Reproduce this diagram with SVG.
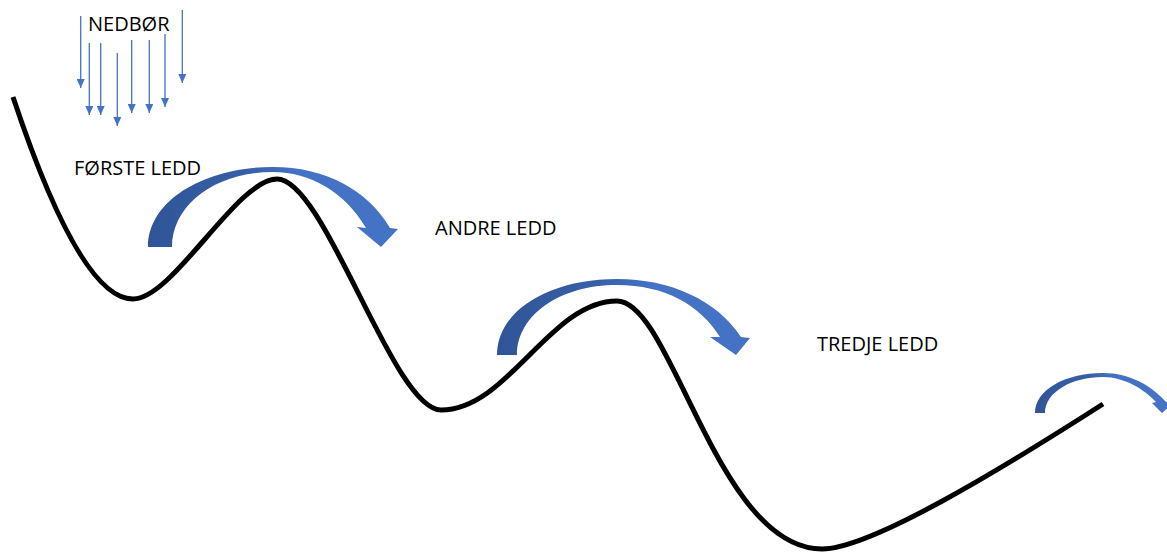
<svg xmlns="http://www.w3.org/2000/svg" width="1167" height="553" viewBox="0 0 1167 553">
  <style>
    .label { font-family: "Open Sans", "Liberation Sans", sans-serif; font-size: 20px; fill: #000000; }
    .rain { stroke: #4472C4; stroke-width: 1.3; fill: none; marker-end: url(#rainHead); }
    .terrain { stroke: #000000; stroke-width: 5; fill: none; stroke-linecap: butt; stroke-linejoin: round; }
    .flow { fill: url(#flowFill); }
  </style>
  <defs>
    <!-- small filled triangle, pointing along the line direction -->
    <marker id="rainHead" markerUnits="userSpaceOnUse" markerWidth="9" markerHeight="8" refX="9" refY="4" orient="auto" viewBox="0 0 9 8">
      <path d="M0,0 L9,4 L0,8 Z" fill="#4472C4"/>
    </marker>
    <linearGradient id="flowFill" x1="0" y1="0" x2="1" y2="0">
      <stop offset="0" stop-color="#2F5597"/>
      <stop offset="0.4" stop-color="#3760A8"/>
      <stop offset="0.6" stop-color="#4472C4"/>
      <stop offset="1" stop-color="#4472C4"/>
    </linearGradient>
  </defs>

  <rect width="1167" height="553" fill="#ffffff"/>

  <!-- precipitation arrows -->
  <g id="precipitation">
    <line class="rain" x1="80.7" y1="16" x2="80.7" y2="88"/>
    <line class="rain" x1="89.3" y1="43" x2="89.3" y2="115"/>
    <line class="rain" x1="100.7" y1="43" x2="100.7" y2="115"/>
    <line class="rain" x1="117.3" y1="53" x2="117.3" y2="126"/>
    <line class="rain" x1="131.7" y1="40" x2="131.7" y2="113"/>
    <line class="rain" x1="149.3" y1="40" x2="149.3" y2="113"/>
    <line class="rain" x1="165" y1="34" x2="165" y2="107"/>
    <line class="rain" x1="182.3" y1="10" x2="182.3" y2="83"/>
  </g>

  <!-- terrain profile -->
  <g id="terrain">
    <path class="terrain" d="M13,97 C38,172 85,299 133,299 C173,299 237,179 277,179 C325,179 393,410 441,410 C508,410 550,301 617,301 C672,301 717,549 822,549 C870,549 1000,470 1103,404"/>
  </g>

  <!-- runoff arrows over each ridge -->
  <g id="flow-1">
    <path class="flow" d="M148,247 C148,200 205,167 273,167 C325,167 368,190 390,228 L398,229 L381,247 L357,227 L366,228 C345,192 310,172 273,172 C215,172 172,205 172,247 Z"/>
  </g>
  <g id="flow-2">
    <path class="flow" d="M497,355 C497,310 550,279 617,279 C670,279 717,300 741,337 L750,338 L736,355 L710,337 L720,337 C700,305 665,285 617,285 C560,285 517,315 517,355 Z"/>
  </g>
  <g id="flow-3">
    <path class="flow" d="M1035,413 C1035,390 1065,373 1103,373 C1130,373 1152,386 1166,402 L1172,404 L1162,413 L1152,403 L1156,402 C1145,390 1125,377 1103,377 C1072,377 1045,392 1045,413 Z"/>
  </g>

  <!-- labels -->
  <g id="label-nedbor"><text class="label" x="88" y="31">NEDBØR</text></g>
  <g id="label-forste"><text class="label" x="74" y="175">FØRSTE LEDD</text></g>
  <g id="label-andre"><text class="label" x="435" y="235">ANDRE LEDD</text></g>
  <g id="label-tredje"><text class="label" x="817" y="351">TREDJE LEDD</text></g>
</svg>
